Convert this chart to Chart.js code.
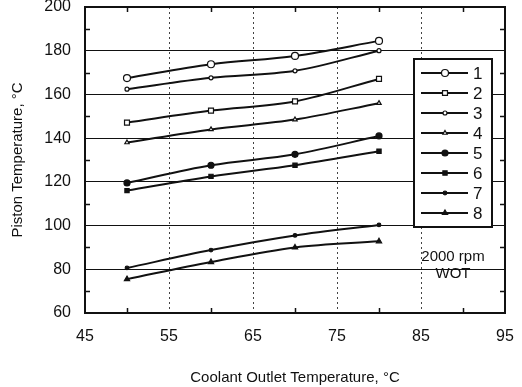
<!DOCTYPE html>
<html>
<head>
<meta charset="utf-8">
<script src="https://cdn.jsdelivr.net/npm/chart.js@4/dist/chart.umd.min.js"></script>
<style>
  html, body { margin: 0; padding: 0; background: #fff; }
  #wrap { width: 522px; height: 387px; position: relative; }
</style>
</head>
<body>
<div id="wrap"><canvas id="c" width="522" height="387"></canvas></div>
<script>
const coolantTemps = [50, 60, 70, 80];
const seriesLabels = ['1', '2', '3', '4', '5', '6', '7', '8'];
const series1 = [167.5, 173.8, 177.6, 184.5];
const series2 = [147.1, 152.6, 156.8, 167.1];
const series3 = [162.4, 167.6, 170.8, 180.0];
const series4 = [138.0, 144.0, 148.5, 156.0];
const series5 = [119.5, 127.6, 132.6, 141.0];
const series6 = [116.0, 122.5, 127.6, 134.0];
const series7 = [80.6, 88.8, 95.5, 100.3];
const series8 = [75.5, 83.3, 90.0, 92.8];
const xTickValues = [45, 55, 65, 75, 85, 95];
const yTickValues = [60, 80, 100, 120, 140, 160, 180, 200];
const xMinorTicks = [50, 60, 70, 80, 90];
const yMinorTicks = [70, 90, 110, 130, 150, 170, 190];
const noteLines = ['2000 rpm', 'WOT'];
const xTitle = 'Coolant Outlet Temperature, \u00B0C';
const yTitle = 'Piston Temperature, \u00B0C';

const FONT = '"Liberation Sans", Arial, sans-serif';
const INK = '#111';

const styles = [
  { pointStyle: 'circle', radius: 3.5, fill: '#fff' },
  { pointStyle: 'rect', radius: 3.5, fill: '#fff' },
  { pointStyle: 'circle', radius: 2, fill: '#fff' },
  { pointStyle: 'triangle', radius: 2.5, fill: '#fff' },
  { pointStyle: 'circle', radius: 3, fill: INK },
  { pointStyle: 'rect', radius: 3, fill: INK },
  { pointStyle: 'circle', radius: 1.8, fill: INK },
  { pointStyle: 'triangle', radius: 3, fill: INK }
];
const allSeries = [series1, series2, series3, series4, series5, series6, series7, series8];

const datasets = allSeries.map((vals, i) => ({
  label: seriesLabels[i],
  data: coolantTemps.map((x, j) => ({ x: x, y: vals[j] })),
  borderColor: INK,
  borderWidth: 2,
  backgroundColor: styles[i].fill,
  pointBackgroundColor: styles[i].fill,
  pointBorderColor: INK,
  pointBorderWidth: 1.2,
  pointStyle: styles[i].pointStyle,
  pointRadius: styles[i].radius,
  cubicInterpolationMode: 'monotone',
  fill: false
}));

const decorPlugin = {
  id: 'decor',
  afterDatasetsDraw(chart) {
    const ctx = chart.ctx;
    const a = chart.chartArea;
    const xs = chart.scales.x, ys = chart.scales.y;
    ctx.save();
    // minor ticks
    ctx.strokeStyle = INK;
    ctx.lineWidth = 1.5;
    yMinorTicks.forEach(v => {
      const py = Math.round(ys.getPixelForValue(v)) + 0.5;
      ctx.beginPath();
      ctx.moveTo(a.left, py); ctx.lineTo(a.left + 5, py);
      ctx.moveTo(a.right, py); ctx.lineTo(a.right - 5, py);
      ctx.stroke();
    });
    xMinorTicks.forEach(v => {
      const px = Math.round(xs.getPixelForValue(v)) + 0.5;
      ctx.beginPath();
      ctx.moveTo(px, a.bottom); ctx.lineTo(px, a.bottom - 5);
      ctx.moveTo(px, a.top); ctx.lineTo(px, a.top + 5);
      ctx.stroke();
    });
    // frame
    ctx.lineWidth = 2;
    ctx.strokeRect(a.left, a.top, a.right - a.left, a.bottom - a.top);

    // legend box
    const bx = a.right - 91, by = a.top + 52, bw = 78, bh = 168;
    ctx.fillStyle = '#fff';
    ctx.fillRect(bx, by, bw, bh);
    ctx.lineWidth = 2;
    ctx.strokeStyle = INK;
    ctx.strokeRect(bx, by, bw, bh);
    chart.data.datasets.forEach((ds, i) => {
      const ly = by + 14 + i * 20;
      ctx.beginPath();
      ctx.lineWidth = 2;
      ctx.strokeStyle = INK;
      ctx.moveTo(bx + 7, ly); ctx.lineTo(bx + 54, ly);
      ctx.stroke();
      ctx.fillStyle = ds.pointBackgroundColor;
      ctx.strokeStyle = INK;
      ctx.lineWidth = 1.2;
      Chart.helpers.drawPoint(ctx, { pointStyle: ds.pointStyle, radius: ds.pointRadius, borderWidth: 1.2 }, bx + 31, ly);
      ctx.fillStyle = INK;
      ctx.font = '17px ' + FONT;
      ctx.textAlign = 'left';
      ctx.textBaseline = 'middle';
      ctx.fillText(ds.label, bx + 59, ly + 1);
    });

    // note
    ctx.fillStyle = INK;
    ctx.font = '15px ' + FONT;
    ctx.textAlign = 'center';
    ctx.textBaseline = 'middle';
    const nx = (bx + bx + bw) / 2;
    ctx.fillText(noteLines[0], nx, by + bh + 30);
    ctx.fillText(noteLines[1], nx, by + bh + 47);
    ctx.restore();
  }
};

new Chart(document.getElementById('c'), {
  type: 'line',
  data: { datasets: datasets },
  plugins: [decorPlugin],
  options: {
    responsive: false,
    animation: false,
    events: [],
    layout: { padding: { top: 7, right: 17, left: 0, bottom: 0 } },
    plugins: { legend: { display: false }, tooltip: { enabled: false } },
    scales: {
      x: {
        type: 'linear',
        min: 45, max: 95,
        afterBuildTicks: s => { s.ticks = xTickValues.map(v => ({ value: v })); },
        afterFit: s => { s.height = 74; s.paddingLeft = 0; s.paddingRight = 0; },
        border: { display: false, dash: [2, 3] },
        grid: {
          drawTicks: false,
          lineWidth: 1,
          color: c => (c.tick && (c.tick.value === 45 || c.tick.value === 95)) ? 'rgba(0,0,0,0)' : '#444'
        },
        ticks: { color: INK, font: { family: FONT, size: 16 }, padding: 14, maxRotation: 0 },
        title: {
          display: true, text: xTitle, color: INK,
          font: { family: FONT, size: 15 }, padding: { top: 0, bottom: 0 }
        }
      },
      y: {
        type: 'linear',
        min: 60, max: 200,
        afterBuildTicks: s => { s.ticks = yTickValues.map(v => ({ value: v })); },
        afterFit: s => { s.width = 85; s.paddingTop = 0; s.paddingBottom = 0; },
        border: { display: false },
        grid: {
          drawTicks: false,
          lineWidth: 1,
          color: c => (c.tick && (c.tick.value === 60 || c.tick.value === 200)) ? 'rgba(0,0,0,0)' : '#111'
        },
        ticks: { color: INK, font: { family: FONT, size: 16 }, padding: 14 },
        title: {
          display: true, text: yTitle, color: INK,
          font: { family: FONT, size: 15 }, padding: { top: 9, bottom: 0 }
        }
      }
    }
  }
});
</script>
</body>
</html>
